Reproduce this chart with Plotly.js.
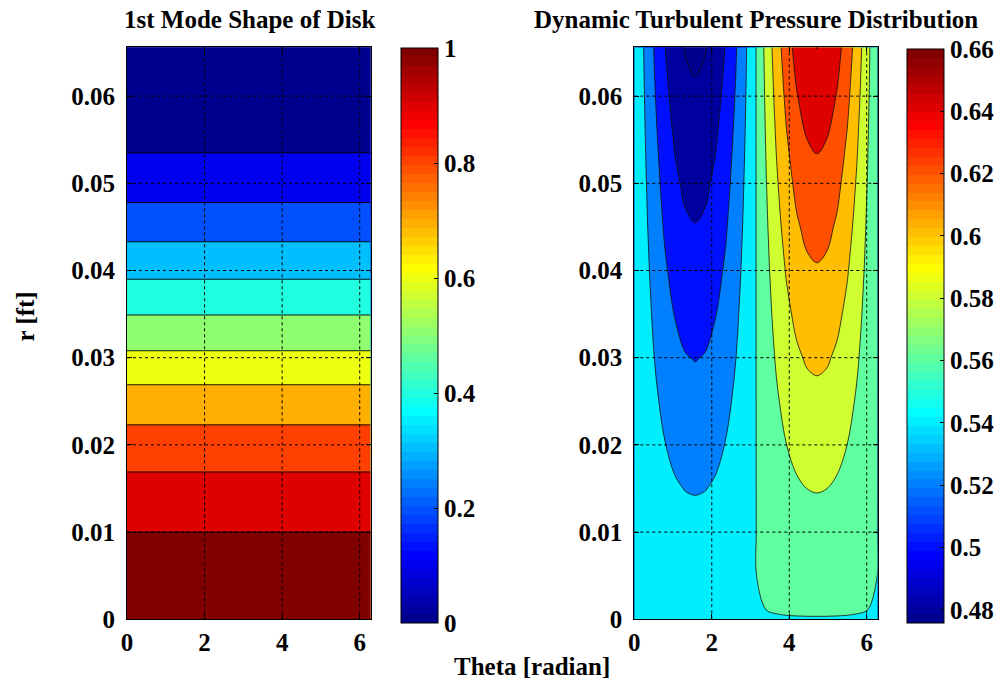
<!DOCTYPE html>
<html>
<head>
<meta charset="utf-8">
<script src="https://cdn.plot.ly/plotly-3.0.1.min.js"></script>
<style>html,body{margin:0;padding:0;background:#fff}#chart{width:1001px;height:686px}</style>
</head>
<body>
<div id="chart"></div>
<script>
// ---------------- data ----------------
const thetaTicks = [0, 2, 4, 6];
const thetaTickText = ['0', '2', '4', '6'];
const rTicks = [0, 0.01, 0.02, 0.03, 0.04, 0.05, 0.06];
const rTickText = ['0', '0.01', '0.02', '0.03', '0.04', '0.05', '0.06'];
const thetaRange = [0, 6.2832];
const rRange = [0, 0.0656];

// 1st mode shape (depends on r only)
const modeTheta = [0, 6.2832];
const modeR = [0, 0.0050, 0.0100, 0.0169, 0.0223, 0.0269, 0.0308, 0.0349, 0.0390, 0.0433, 0.0478, 0.0535, 0.0600, 0.0656];
const modeShape = [1.0, 1.0, 1.0, 0.9, 0.8, 0.7, 0.6, 0.5, 0.4, 0.3, 0.2, 0.1, 0.045, 0.0];
const modeLevels = [0.1, 0.2, 0.3, 0.4, 0.5, 0.6, 0.7, 0.8, 0.9, 1.0];
const modeColorRange = [0, 1];
const modeColorTicks = [0, 0.2, 0.4, 0.6, 0.8, 1];
const modeColorTickText = ['0', '0.2', '0.4', '0.6', '0.8', '1'];

// Dynamic turbulent pressure distribution
const pressureTheta = [0, 0.2618, 0.5236, 0.7854, 1.0472, 1.3090, 1.5708, 1.8326, 2.0944, 2.3562, 2.6180, 2.8798,
  3.1416, 3.4034, 3.6652, 3.9270, 4.1888, 4.4506, 4.7124, 4.9742, 5.2360, 5.4978, 5.7596, 6.0214, 6.2832];
const pressureR = [0, 0.005, 0.010, 0.015, 0.020, 0.025, 0.030, 0.035, 0.040, 0.045, 0.050, 0.055, 0.060, 0.0656];
const pressure = [
  [0.5595,0.5595,0.5595,0.5595,0.5595,0.5595,0.5595,0.5595,0.5595,0.5595,0.5595,0.5595,0.5595,0.5595,0.5595,0.5595,0.5595,0.5595,0.5595,0.5595,0.5595,0.5595,0.5595,0.5595,0.5595],
  [0.5599,0.5582,0.5565,0.5550,0.5539,0.5532,0.5529,0.5532,0.5539,0.5550,0.5565,0.5582,0.5599,0.5618,0.5634,0.5649,0.5660,0.5667,0.5669,0.5667,0.5660,0.5649,0.5634,0.5618,0.5599],
  [0.5599,0.5563,0.5529,0.5500,0.5478,0.5463,0.5459,0.5463,0.5478,0.5500,0.5529,0.5563,0.5599,0.5636,0.5669,0.5697,0.5719,0.5733,0.5738,0.5733,0.5719,0.5697,0.5669,0.5636,0.5599],
  [0.5599,0.5545,0.5494,0.5451,0.5417,0.5396,0.5389,0.5396,0.5417,0.5451,0.5494,0.5545,0.5599,0.5654,0.5704,0.5746,0.5779,0.5800,0.5807,0.5800,0.5779,0.5746,0.5704,0.5654,0.5599],
  [0.5599,0.5529,0.5462,0.5405,0.5361,0.5333,0.5324,0.5333,0.5361,0.5405,0.5462,0.5529,0.5599,0.5673,0.5741,0.5799,0.5844,0.5872,0.5881,0.5872,0.5844,0.5799,0.5741,0.5673,0.5599],
  [0.5599,0.5512,0.5429,0.5359,0.5305,0.5271,0.5259,0.5271,0.5305,0.5359,0.5429,0.5512,0.5599,0.5692,0.5778,0.5852,0.5908,0.5944,0.5956,0.5944,0.5908,0.5852,0.5778,0.5692,0.5599],
  [0.5599,0.5495,0.5397,0.5313,0.5249,0.5208,0.5194,0.5208,0.5249,0.5313,0.5397,0.5495,0.5599,0.5712,0.5816,0.5905,0.5973,0.6017,0.6031,0.6017,0.5973,0.5905,0.5816,0.5712,0.5599],
  [0.5599,0.5479,0.5366,0.5269,0.5194,0.5148,0.5132,0.5148,0.5194,0.5269,0.5366,0.5479,0.5599,0.5732,0.5854,0.5959,0.6040,0.6091,0.6108,0.6091,0.6040,0.5959,0.5854,0.5732,0.5599],
  [0.5599,0.5463,0.5334,0.5224,0.5140,0.5087,0.5069,0.5087,0.5140,0.5224,0.5334,0.5463,0.5599,0.5752,0.5893,0.6014,0.6107,0.6166,0.6186,0.6166,0.6107,0.6014,0.5893,0.5752,0.5599],
  [0.5599,0.5446,0.5303,0.5180,0.5086,0.5026,0.5006,0.5026,0.5086,0.5180,0.5303,0.5446,0.5599,0.5772,0.5933,0.6070,0.6176,0.6242,0.6265,0.6242,0.6176,0.6070,0.5933,0.5772,0.5599],
  [0.5599,0.5431,0.5273,0.5138,0.5034,0.4968,0.4946,0.4968,0.5034,0.5138,0.5273,0.5431,0.5599,0.5793,0.5973,0.6127,0.6245,0.6320,0.6345,0.6320,0.6245,0.6127,0.5973,0.5793,0.5599],
  [0.5599,0.5415,0.5243,0.5095,0.4982,0.4910,0.4886,0.4910,0.4982,0.5095,0.5243,0.5415,0.5599,0.5814,0.6013,0.6184,0.6316,0.6398,0.6426,0.6398,0.6316,0.6184,0.6013,0.5814,0.5599],
  [0.5599,0.5400,0.5213,0.5053,0.4930,0.4853,0.4826,0.4853,0.4930,0.5053,0.5213,0.5400,0.5599,0.5836,0.6055,0.6244,0.6389,0.6480,0.6511,0.6480,0.6389,0.6244,0.6055,0.5836,0.5599],
  [0.5599,0.5383,0.5181,0.5007,0.4873,0.4790,0.4761,0.4790,0.4873,0.5007,0.5181,0.5383,0.5599,0.5860,0.6102,0.6309,0.6469,0.6569,0.6603,0.6569,0.6469,0.6309,0.6102,0.5860,0.5599]
];
const pressureLevels = [0.48, 0.50, 0.52, 0.54, 0.56, 0.58, 0.60, 0.62, 0.64, 0.66];
const pressureColorRange = [0.4759, 0.6601];
const pressureColorTicks = [0.48, 0.50, 0.52, 0.54, 0.56, 0.58, 0.60, 0.62, 0.64, 0.66];
const pressureColorTickText = ['0.48', '0.5', '0.52', '0.54', '0.56', '0.58', '0.6', '0.62', '0.64', '0.66'];

// ---------------- styling helpers ----------------
const W = 1001, H = 686;
const px = v => v / W;           // horizontal pixel -> paper fraction
const py = v => 1 - v / H;       // vertical pixel -> paper fraction
const font = {family: 'Liberation Serif, Times New Roman, serif', size: 25, color: '#000', weight: 'bold'};

// MATLAB jet(64)
function jetU(k) { if (k < 1 || k > 47) return 0; if (k <= 16) return k / 16; if (k <= 31) return 1; return (48 - k) / 16; }
function jet64(i) {
  const c = [jetU(i - 24), jetU(i - 8), jetU(i + 8)].map(v => Math.round(v * 255));
  return 'rgb(' + c.join(',') + ')';
}
function matlabIndex(v, range) {
  const i = Math.floor((v - range[0]) / (range[1] - range[0]) * 64 + 1e-9) + 1;
  return Math.min(64, Math.max(1, i));
}
const jet64Scale = [];
for (let i = 1; i <= 64; i++) { const c = jet64(i); jet64Scale.push([(i - 1) / 64, c]); jet64Scale.push([i / 64, c]); }

function bandScale(levels, range) {
  const vals = [range[0]].concat(levels);
  const n = vals.length - 1;
  return vals.map((v, k) => [k / n, jet64(matlabIndex(v, range))]);
}
function contourSpec(levels) {
  const step = Math.round((levels[1] - levels[0]) * 1e6) / 1e6;
  return {start: levels[0] - 1e-6, end: levels[levels.length - 1] - 1e-6, size: step,
          coloring: 'fill', showlines: true, showlabels: false};
}
function colorbarSpec(left, right, top, bottom, ticks, text) {
  return {x: px(left), xanchor: 'left', xpad: 0, xref: 'paper',
          y: py((top + bottom) / 2), yanchor: 'middle', ypad: 0, yref: 'paper',
          len: bottom - top, lenmode: 'pixels', thickness: right - left, thicknessmode: 'pixels',
          outlinewidth: 1, outlinecolor: '#000', borderwidth: 0,
          tickmode: 'array', tickvals: ticks, ticktext: text,
          ticks: 'inside', ticklen: 4, tickcolor: '#000', tickwidth: 1, tickfont: font};
}

const modeZ = modeShape.map(w => modeTheta.map(() => w));

const traces = [
  {type: 'heatmap', x: modeTheta, y: modeR, z: modeZ, xaxis: 'x', yaxis: 'y',
   zmin: modeColorRange[0], zmax: modeColorRange[1], colorscale: jet64Scale, zsmooth: false,
   hoverinfo: 'skip', showscale: true, colorbar: colorbarSpec(401, 437.5, 48.5, 623.3, modeColorTicks, modeColorTickText)},
  {type: 'contour', x: modeTheta, y: modeR, z: modeZ, xaxis: 'x', yaxis: 'y',
   autocontour: false, contours: contourSpec(modeLevels),
   colorscale: bandScale(modeLevels, modeColorRange), showscale: false,
   line: {color: '#000', width: 0.9, smoothing: 0}, hoverinfo: 'skip'},
  {type: 'heatmap', x: pressureTheta, y: pressureR, z: pressure, xaxis: 'x2', yaxis: 'y2',
   zmin: pressureColorRange[0], zmax: pressureColorRange[1], colorscale: jet64Scale, zsmooth: false,
   hoverinfo: 'skip', showscale: true, colorbar: colorbarSpec(907.3, 944, 48.4, 622.7, pressureColorTicks, pressureColorTickText)},
  {type: 'contour', x: pressureTheta, y: pressureR, z: pressure, xaxis: 'x2', yaxis: 'y2',
   autocontour: false, contours: contourSpec(pressureLevels),
   colorscale: bandScale(pressureLevels, pressureColorRange), showscale: false,
   line: {color: '#111', width: 0.8, smoothing: 1}, hoverinfo: 'skip'}
];

function xAxis(l, r, anchor) {
  return {domain: [px(l), px(r)], anchor: anchor, range: thetaRange, tickmode: 'array',
          tickvals: thetaTicks, ticktext: thetaTickText, ticks: 'inside', ticklen: 5, tickcolor: '#000',
          showline: true, linecolor: '#000', linewidth: 1, mirror: 'ticks', showgrid: false, zeroline: false,
          tickfont: font, ticklabelstandoff: 1, fixedrange: true};
}
function yAxis(anchor) {
  return {domain: [py(619.3), py(47.3)], anchor: anchor, range: rRange, tickmode: 'array',
          tickvals: rTicks, ticktext: rTickText, ticks: 'inside', ticklen: 5, tickcolor: '#000',
          showline: true, linecolor: '#000', linewidth: 1, mirror: 'ticks', showgrid: false, zeroline: false,
          tickfont: font, ticklabelstandoff: 6, fixedrange: true};
}

// dotted grid drawn above the filled contours
const shapes = [];
[['x', 'y'], ['x2', 'y2']].forEach(([xa, ya]) => {
  thetaTicks.filter(t => t > thetaRange[0]).forEach(t => shapes.push({
    type: 'line', xref: xa, yref: ya + ' domain', x0: t, x1: t, y0: 0, y1: 1, layer: 'above',
    line: {color: '#000', width: 1, dash: '3px,3px'}}));
  rTicks.filter(r => r > rRange[0]).forEach(r => shapes.push({
    type: 'line', xref: xa + ' domain', yref: ya, x0: 0, x1: 1, y0: r, y1: r, layer: 'above',
    line: {color: '#000', width: 1, dash: '3px,3px'}}));
});

const annotations = [
  {text: '1st Mode Shape of Disk', x: px(250), y: py(19.5)},
  {text: 'Dynamic Turbulent Pressure Distribution', x: px(756), y: py(19.5)},
  {text: 'Theta [radian]', x: px(532.3), y: py(666.5)},
  {text: 'r [ft]', x: px(25), y: py(316.5), textangle: -90}
].map(a => Object.assign({xref: 'paper', yref: 'paper', xanchor: 'center', yanchor: 'middle',
                          showarrow: false, font: font}, a));

const layout = {
  width: W, height: H, margin: {l: 0, r: 0, t: 0, b: 0},
  paper_bgcolor: '#fff', plot_bgcolor: '#fff', showlegend: false,
  xaxis: xAxis(127, 370.7, 'y'), yaxis: yAxis('x'),
  xaxis2: xAxis(634.3, 877.7, 'y2'), yaxis2: yAxis('x2'),
  shapes: shapes, annotations: annotations
};

Plotly.newPlot('chart', traces, layout, {staticPlot: true, displayModeBar: false});
</script>
</body>
</html>
